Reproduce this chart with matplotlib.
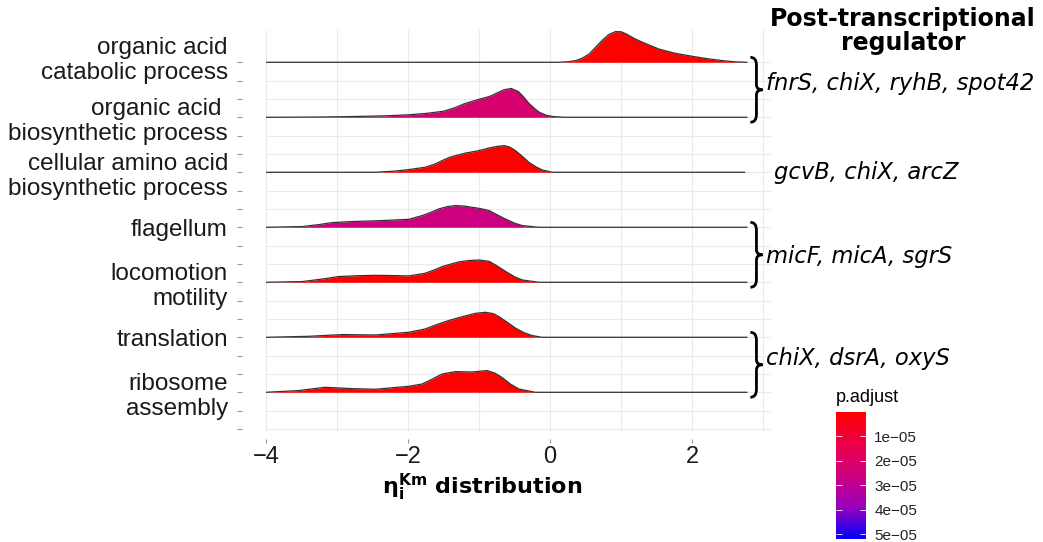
import matplotlib.pyplot as plt
from matplotlib.colors import LinearSegmentedColormap, Normalize
from matplotlib.cm import ScalarMappable
from matplotlib.path import Path
from matplotlib.patches import PathPatch
from matplotlib.transforms import ScaledTranslation

# GO terms, top to bottom
terms = ["organic acid\ncatabolic process",
         "organic acid \nbiosynthetic process",
         "cellular amino acid\nbiosynthetic process",
         "flagellum",
         "locomotion\nmotility",
         "translation",
         "ribosome\nassembly"]
p_adjust = [1e-07, 2.2e-05, 1e-07, 2.6e-05, 1e-07, 1e-07, 1e-07]

# density curves (eta values, density heights)
x_catabolic = [-4.0, 0.10, 0.25, 0.36, 0.45, 0.55, 0.64, 0.73, 0.82, 0.92, 1.00, 1.08,
               1.18, 1.30, 1.42, 1.53, 1.65, 1.76, 1.88, 2.00, 2.24, 2.47, 2.60, 2.77]
d_catabolic = [0, 0, 0.009, 0.031, 0.073, 0.151, 0.273, 0.395, 0.50, 0.558, 0.555, 0.51,
               0.436, 0.364, 0.30, 0.242, 0.20, 0.164, 0.136, 0.109, 0.06, 0.024, 0.009, 0]

x_org_bio = [-4.0, -3.3, -3.0, -2.6, -2.3, -2.0, -1.75, -1.5, -1.35, -1.2, -1.0, -0.85,
             -0.75, -0.65, -0.55, -0.45, -0.38, -0.3, -0.22, -0.15, -0.05, 0.05, 0.2, 2.77]
d_org_bio = [0, 0.004, 0.009, 0.018, 0.027, 0.045, 0.07, 0.11, 0.17, 0.25, 0.327, 0.38,
             0.44, 0.50, 0.525, 0.47, 0.38, 0.255, 0.16, 0.09, 0.035, 0.012, 0, 0]

x_amino = [-4.0, -2.46, -2.2, -1.99, -1.76, -1.62, -1.52, -1.42, -1.33, -1.19, -1.05, -0.95,
           -0.86, -0.75, -0.65, -0.57, -0.49, -0.40, -0.30, -0.20, -0.11, 0.03, 2.74]
d_amino = [0, 0, 0.02, 0.049, 0.091, 0.15, 0.213, 0.27, 0.304, 0.35, 0.382, 0.41,
           0.442, 0.47, 0.485, 0.46, 0.395, 0.30, 0.182, 0.10, 0.042, 0, 0]

x_flagellum = [-4.0, -3.49, -3.25, -3.07, -2.79, -2.37, -1.99, -1.80, -1.68, -1.57, -1.45,
               -1.33, -1.20, -1.10, -0.98, -0.86, -0.75, -0.63, -0.50, -0.39, -0.16, 2.77]
d_flagellum = [0, 0.013, 0.05, 0.085, 0.104, 0.122, 0.145, 0.213, 0.27, 0.333, 0.375,
               0.395, 0.385, 0.364, 0.34, 0.304, 0.23, 0.151, 0.075, 0.031, 0, 0]

x_locomotion = [-4.0, -3.49, -3.2, -2.98, -2.7, -2.46, -2.2, -1.99, -1.76, -1.64, -1.52,
                -1.40, -1.29, -1.15, -1.00, -0.86, -0.75, -0.63, -0.50, -0.39, -0.16, 2.77]
d_locomotion = [0, 0.013, 0.06, 0.104, 0.12, 0.127, 0.122, 0.115, 0.164, 0.22, 0.285,
                0.33, 0.369, 0.395, 0.405, 0.382, 0.30, 0.20, 0.10, 0.042, 0, 0]

x_translation = [-4.0, -3.40, -2.93, -2.46, -1.99, -1.76, -1.60, -1.43, -1.25, -1.05,
                 -0.91, -0.80, -0.72, -0.60, -0.49, -0.37, -0.25, -0.11, 2.77]
d_translation = [0, 0.018, 0.049, 0.042, 0.091, 0.151, 0.23, 0.304, 0.37, 0.436,
                 0.455, 0.43, 0.376, 0.27, 0.169, 0.085, 0.031, 0, 0]

x_ribosome = [-4.0, -3.54, -3.17, -2.79, -2.46, -1.99, -1.80, -1.66, -1.52, -1.33, -1.10,
              -0.89, -0.78, -0.68, -0.56, -0.44, -0.21, 2.77]
d_ribosome = [0, 0.031, 0.091, 0.067, 0.055, 0.109, 0.151, 0.24, 0.333, 0.376, 0.369,
              0.395, 0.35, 0.273, 0.15, 0.06, 0, 0]

curves = [(x_catabolic, d_catabolic), (x_org_bio, d_org_bio), (x_amino, d_amino),
          (x_flagellum, d_flagellum), (x_locomotion, d_locomotion),
          (x_translation, d_translation), (x_ribosome, d_ribosome)]

# regulators next to groups of rows
reg_labels = ["fnrS, chiX, ryhB, spot42", "gcvB, chiX, arcZ", "micF, micA, sgrS", "chiX, dsrA, oxyS"]
reg_rows = [(0, 1), (2, 2), (3, 4), (5, 6)]

cmap = LinearSegmentedColormap.from_list(
    "padj", ["#FF0000", "#EC0048", "#CC0080", "#9A00BA", "#0000FF"])
norm = Normalize(vmin=0, vmax=5.2e-05)

W, H = 1043, 542
fig = plt.figure(figsize=(W / 100, H / 100), dpi=100)
ax = fig.add_axes([266 / W, 1 - 432 / H, (771 - 266) / W, (432 - 30) / H])

n = len(terms)
base = [n - 1 - i for i in range(n)]

for i, (xs, ds) in enumerate(curves):
    ys = [base[i] + d for d in ds]
    ax.fill_between(xs, base[i], ys, color=cmap(norm(p_adjust[i])), lw=0, zorder=3 + i)
    ax.plot(xs, ys, color="#333333", lw=0.9, zorder=3 + i, solid_joinstyle="round")

ax.set_xlim(-4, 3.11)
ax.set_ylim(-0.722, 6.587)

yt = [6 - k / 3 for k in range(21)]
ylabels = [terms[k // 3] if k % 3 == 0 and k // 3 < n else "" for k in range(21)]
ax.set_yticks(yt)
ax.set_yticklabels(ylabels, va="center", linespacing=1.12)
ax.set_xticks([-4, -2, 0, 2])
ax.set_xticks([-3, -1, 1, 3], minor=True)
ax.set_xticklabels(["\u22124", "\u22122", "0", "2"])

ax.grid(True, which="both", color="#EBEBEB", lw=0.8, zorder=0)
ax.set_axisbelow(True)
for s in ax.spines.values():
    s.set_visible(False)
ax.spines["left"].set_position(("outward", 17.3))
ax.spines["bottom"].set_position(("outward", 5))
ax.tick_params(axis="y", length=3.6, color="#999999", pad=6.5, labelsize=17.5,
               labelfontfamily="Liberation Sans", labelcolor="#1a1a1a")
ax.tick_params(axis="x", which="major", length=3, color="#999999", pad=2, labelsize=17,
               labelfontfamily="Liberation Sans", labelcolor="#1a1a1a")
ax.tick_params(axis="x", which="minor", length=0)

# the top label sits a little higher than its baseline
top_lab = ax.get_yticklabels()[0]
top_lab.set_transform(top_lab.get_transform() + ScaledTranslation(0, 0.06, fig.dpi_scale_trans))

fig.text(482 / W, 1 - 487 / H, r"$\mathbf{\eta_i^{Km}}$ distribution", fontsize=16,
         fontweight="bold", ha="center", va="center")


def brace(ax, x0, ytop, ybot, w):
    h = ytop - ybot
    ym = (ytop + ybot) / 2
    xm = x0 + w * 0.5
    verts = [(x0, ytop), (xm, ytop), (xm, ytop - h * 0.12),
             (xm, ym + h * 0.08), (xm, ym), (x0 + w, ym),
             (xm, ym), (xm, ym - h * 0.08),
             (xm, ybot + h * 0.12), (xm, ybot), (x0, ybot)]
    codes = [Path.MOVETO, Path.CURVE3, Path.CURVE3,
             Path.LINETO, Path.CURVE3, Path.CURVE3,
             Path.CURVE3, Path.CURVE3,
             Path.LINETO, Path.CURVE3, Path.CURVE3]
    ax.add_patch(PathPatch(Path(verts, codes), fc="none", ec="black", lw=2.0,
                           clip_on=False, zorder=20))


reg_shift = [0.11, 0.0, -0.04, 0.12]
for lab, (r0, r1), dy in zip(reg_labels, reg_rows, reg_shift):
    ytop, ybot = base[r0], base[r1]
    if r0 != r1:
        brace(ax, 2.82, ytop + 0.09, ybot - 0.09, 0.17)
        xt = 3.04
    else:
        xt = 3.15
    ax.text(xt, (ytop + ybot) / 2 + dy, lab, fontsize=16.3, style="italic",
            family="DejaVu Sans", ha="left", va="center", clip_on=False)

fig.text(903 / W, 1 - 31 / H, "Post-transcriptional\nregulator", fontsize=17,
         fontweight="bold", ha="center", va="center", linespacing=1.0)

# colour bar for adjusted p values
cax = fig.add_axes([836 / W, 1 - 539 / H, 30 / W, 127 / H])
cb = fig.colorbar(ScalarMappable(norm=norm, cmap=cmap), cax=cax)
cb.outline.set_visible(False)
cax.invert_yaxis()
cb.set_ticks([1e-05, 2e-05, 3e-05, 4e-05, 5e-05])
cb.set_ticklabels(["1e\u221205", "2e\u221205", "3e\u221205", "4e\u221205", "5e\u221205"])
cax.yaxis.set_ticks_position("both")
cax.tick_params(direction="in", length=4, color="white", width=0.6, labelsize=11, pad=6,
                labelfontfamily="Liberation Sans", labelcolor="#222222")
fig.text(836 / W, 1 - 397 / H, "p.adjust", fontsize=13, family="Liberation Sans",
         ha="left", va="center")

fig.savefig("out.png", dpi=100)
